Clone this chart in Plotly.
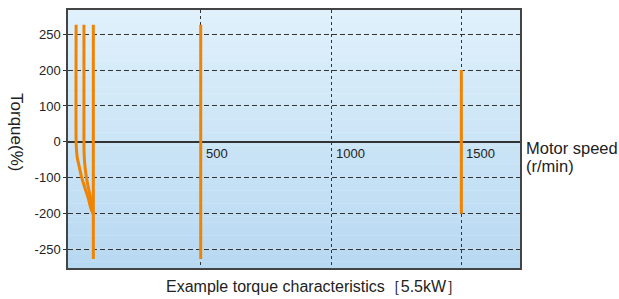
import numpy as np
import plotly.graph_objects as go

# ---- data ----
y_tick_values = [-250, -200, -100, 0, 100, 200, 250]
y_tick_labels = ["-250", "-200", "-100", "0", "100", "200", "250"]
x_tick_values = [500, 1000, 1500]
x_tick_labels = ["500", "1000", "1500"]

# curve 1 (low speed)
c1_speed = [22, 22, 22.8, 26, 33, 44, 57, 69, 79, 88]
c1_torque = [263, 0, -15, -42, -66, -101, -131, -158, -186, -200]
# curve 2
c2_speed = [52, 52, 53, 57, 62, 70, 78, 84, 88]
c2_torque = [263, 0, -39, -75, -101, -131, -158, -186, -200]
# straight lines
c3_speed = [88, 88]
c3_torque = [263, -263]
c4_speed = [500, 500]
c4_torque = [263, -263]
c5_speed = [1500, 1500]
c5_torque = [200, -200]

# the torque axis in the original is non-uniform: ticks evenly spaced
scale_src = [-300, -250, -200, -100, 0, 100, 200, 250, 300]
scale_pos = [-4, -3, -2, -1, 0, 1, 2, 3, 4]


def ty(v):
    return list(np.interp(v, scale_src, scale_pos))


ORANGE = "#f08300"
DARK = "#333333"
FONT = "Liberation Sans, Arial, Helvetica, sans-serif"

fig = go.Figure()
curves = [
    (c1_speed, c1_torque, "spline"),
    (c2_speed, c2_torque, "spline"),
    (c3_speed, c3_torque, "linear"),
    (c4_speed, c4_torque, "linear"),
    (c5_speed, c5_torque, "linear"),
]
for xs, ys, shp in curves:
    fig.add_trace(go.Scatter(x=xs, y=ty(ys), mode="lines",
                             line=dict(color=ORANGE, width=3, shape=shp, smoothing=1.0,
                                       simplify=False),
                             showlegend=False, hoverinfo="skip"))

# gradient background
shapes = []
n = 40
top = np.array([224, 241, 252])
bot = np.array([184, 217, 242])
for i in range(n):
    f = i / (n - 1)
    c = top * (1 - f) + bot * f
    shapes.append(dict(type="rect", xref="x domain", yref="y domain",
                       x0=0, x1=1, y0=1 - (i + 1) / n, y1=1 - i / n + 0.001,
                       fillcolor="rgb(%d,%d,%d)" % tuple(c.astype(int)),
                       line=dict(width=0), layer="below"))

L, R, T, B = 68, 99, 8, 31
W, H = 619, 299
pw, ph = W - L - R, H - T - B

annotations = []
for v, t in zip(x_tick_values, x_tick_labels):
    annotations.append(dict(x=v, y=0, xref="x", yref="y", text=t, showarrow=False,
                            xanchor="left", yanchor="top", xshift=3, yshift=-2,
                            font=dict(family=FONT, size=13, color="#222")))
for txt, ys in (("Motor speed", -6), ("(r/min)", -24)):
    annotations.append(dict(x=1, y=0, xref="paper", yref="y", xanchor="left", yanchor="middle",
                            text=txt, showarrow=False, align="left",
                            xshift=4, yshift=ys,
                            font=dict(family=FONT, size=16.5, color="#222")))
annotations.append(dict(x=(17 - L) / pw, y=(H - B - 131) / ph, xref="paper", yref="paper",
                        xanchor="center", yanchor="middle",
                        text="Torque(%)", showarrow=False, textangle=90,
                        font=dict(family=FONT, size=17, color="#222")))
annotations.append(dict(x=(314 - L) / pw, y=(H - B - 287) / ph, xref="paper", yref="paper",
                        text="Example torque characteristics［5.5kW］", showarrow=False,
                        xanchor="center", yanchor="middle",
                        font=dict(family=FONT, size=16, color="#222")))

fig.update_layout(
    width=W, height=H,
    margin=dict(l=L, r=R, t=T, b=B),
    paper_bgcolor="white",
    plot_bgcolor="rgba(0,0,0,0)",
    shapes=shapes,
    annotations=annotations,
    font=dict(family=FONT, color="#222"),
    xaxis=dict(range=[-9.2, 1725], tickvals=x_tick_values, showticklabels=False,
               showgrid=True, gridcolor=DARK, griddash="3px,3px", gridwidth=1,
               zeroline=False, showline=True, linecolor="#444", linewidth=1.5,
               mirror=True, ticks=""),
    yaxis=dict(range=[-3.51, 3.67], tickvals=ty(y_tick_values), ticktext=y_tick_labels,
               tickfont=dict(family=FONT, size=13, color="#222"),
               showgrid=True, gridcolor=DARK, griddash="5px,3px", gridwidth=1,
               zeroline=True, zerolinecolor=DARK, zerolinewidth=1.5,
               showline=True, linecolor="#444", linewidth=1.5, mirror=True,
               ticks="outside", ticklen=3, tickcolor=DARK),
)

fig.write_html("out.html", config={"displayModeBar": False},
               post_script="document.body.style.margin='0px';")
